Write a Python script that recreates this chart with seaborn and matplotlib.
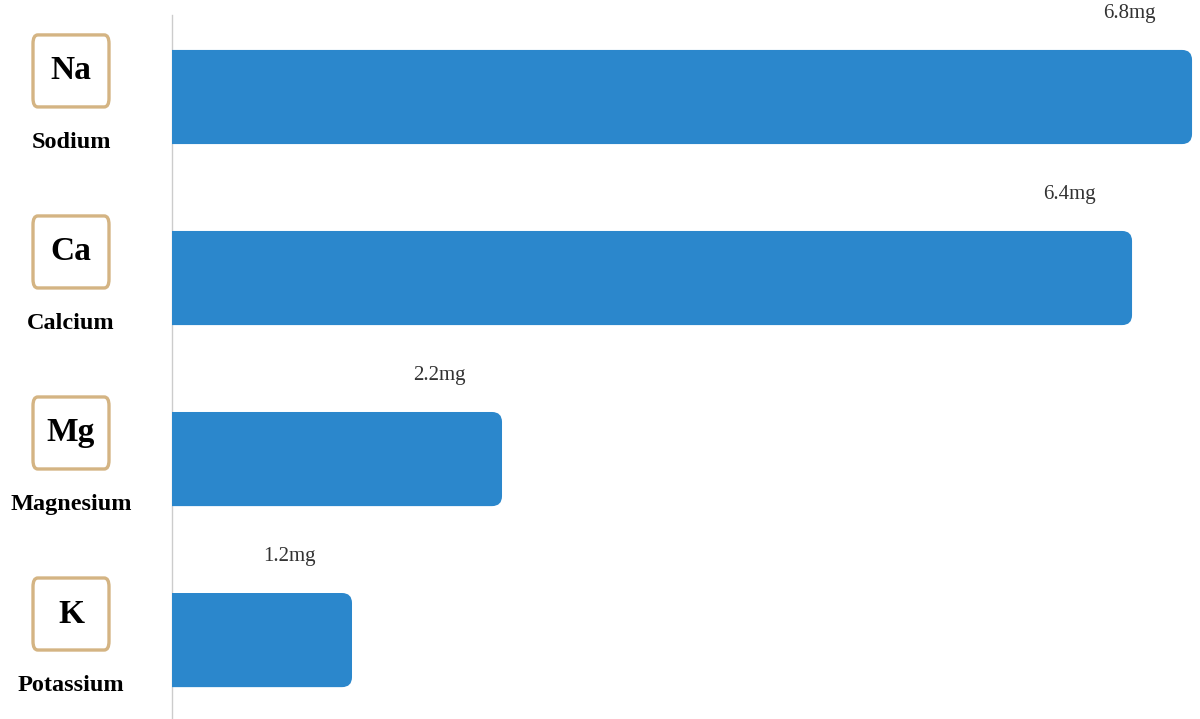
import matplotlib
matplotlib.use("Agg")
import matplotlib.pyplot as plt
import seaborn as sns
import pandas as pd
from matplotlib.patches import FancyBboxPatch
from matplotlib.transforms import blended_transform_factory

# data
symbols = ["Na", "Ca", "Mg", "K"]
names = ["Sodium", "Calcium", "Magnesium", "Potassium"]
values = [6.8, 6.4, 2.2, 1.2]
unit = "mg"

bar_color = "#2B87CC"
box_color = "#D4B483"

sns.set_theme(style="white")
plt.rcParams["font.family"] = ["Liberation Serif", "DejaVu Serif"]

df = pd.DataFrame({"symbol": symbols, "name": names, "value": values})

fig = plt.figure(figsize=(12, 7.19), dpi=100)
# axes: left edge at 172px, top at 15px, bottom at the figure edge
ax = fig.add_axes([172 / 1200, 0, 1 - 172 / 1200, (719 - 15) / 719])

sns.barplot(data=df, y="symbol", x="value", orient="h", color=bar_color,
            width=0.52, saturation=1, ax=ax)

# limits so that category 0 sits at ~97px and spacing is ~181px
ax.set_xlim(0, 6.853)
ax.set_ylim(3.436, -0.453)

# replace bars by rounded ones (left side is clipped by the axes)
r = 0.067
for p in list(ax.patches):
    x0, y0, w, h = p.get_x(), p.get_y(), p.get_width(), p.get_height()
    p.remove()
    fb = FancyBboxPatch((x0 - r * 2, y0), w + r * 2, h,
                        boxstyle=f"round,pad=0,rounding_size={r}",
                        mutation_aspect=0.83, facecolor=bar_color,
                        edgecolor="none", clip_on=True, zorder=3)
    ax.add_patch(fb)
    ax.annotate(f"{w:g}{unit}", xy=(x0 + w, y0), xytext=(-45, 26),
                textcoords="offset points", ha="center", va="center",
                fontsize=15, color="#333333")

# symbol boxes and names on the left
trans = blended_transform_factory(fig.transFigure, ax.transData)
bw = 76 / 1200
bh = 72 / 181
for i, (sym, nm) in enumerate(zip(symbols, names)):
    cy = i - 0.144
    box = FancyBboxPatch((71 / 1200 - bw / 2, cy - bh / 2), bw, bh,
                         boxstyle="round,pad=0,rounding_size=0.004",
                         mutation_aspect=12,
                         facecolor="white", edgecolor=box_color,
                         linewidth=2.4, transform=trans, clip_on=False)
    fig.add_artist(box)
    fig.text(71 / 1200, cy, sym, transform=trans, ha="center", va="center",
             fontsize=24, fontweight="bold", color="black")
    fig.text(71 / 1200, i + 0.25, nm, transform=trans, ha="center",
             va="center", fontsize=17.5, fontweight="bold", color="black")

ax.set_xlabel("")
ax.set_ylabel("")
ax.set_xticks([])
ax.set_yticks([])
for s in ["top", "right", "bottom"]:
    ax.spines[s].set_visible(False)
ax.spines["left"].set_color("#cccccc")
ax.spines["left"].set_linewidth(1)

fig.savefig("out.png", dpi=100, facecolor="white")
